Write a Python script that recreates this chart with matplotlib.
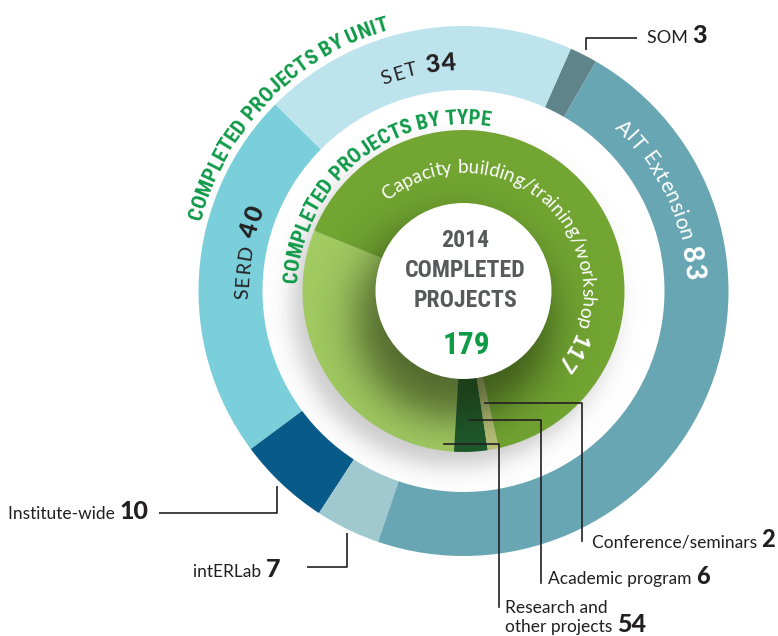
import numpy as np
import matplotlib
matplotlib.use('Agg')
import matplotlib.pyplot as plt
from matplotlib import font_manager
from matplotlib.font_manager import FontProperties
from matplotlib.patches import Circle

# ---------------- data ----------------
unit_labels = ['SOM', 'SET', 'SERD', 'Institute-wide', 'intERLab', 'AIT Extension']
unit_values = [3, 34, 40, 10, 7, 83]
unit_colors = ['#5f8489', '#bde3ec', '#7bcfdb', '#085a88', '#9fc8cf', '#67a6b2']

type_labels = ['Research and\nother projects', 'Academic program', 'Conference/seminars',
               'Capacity building/training/workshop']
type_values = [54, 6, 2, 117]
type_colors = ['#a2cb62', '#1d5a2c', '#bcc47a', '#72a532']

year = 2014
total_projects = 179
title_unit = 'COMPLETED PROJECTS BY UNIT'
title_type = 'COMPLETED PROJECTS BY TYPE'
center_lines = [str(year), 'COMPLETED', 'PROJECTS']

# ---------------- layout ----------------
W, H = 778, 636
def Y(py):
    return H - py

CX, CY = 463.5, Y(291)
R_OUT, R_OUT_IN = 265, 201
R_PIE, R_HOLE = 161, 88

names = {f.name for f in font_manager.fontManager.ttflist}
COND = next((n for n in ['Roboto Condensed', 'Open Sans Condensed', 'Liberation Sans Narrow']
             if n in names), 'DejaVu Sans')
LATO = 'Lato' if 'Lato' in names else 'DejaVu Sans'

def fp(family, size, weight='normal'):
    return FontProperties(family=family, size=size, weight=weight)

GREEN = '#0f9a48'
DARK = '#231f20'
GRAY = '#58595b'

fig = plt.figure(figsize=(W / 100, H / 100), dpi=100)
ax = fig.add_axes([0, 0, 1, 1])
renderer = fig.canvas.get_renderer()

# ---------------- pies ----------------
outer, _ = ax.pie(unit_values, colors=unit_colors, startangle=60, counterclock=True,
                  radius=R_OUT, center=(CX, CY),
                  wedgeprops=dict(width=R_OUT - R_OUT_IN, edgecolor='none', linewidth=0))
for w in outer:
    w.set_zorder(2)
inner, _ = ax.pie(type_values, colors=type_colors, startangle=158, counterclock=True,
                  radius=R_PIE, center=(CX, CY),
                  wedgeprops=dict(width=R_PIE, edgecolor='none', linewidth=0))
for w in inner:
    w.set_zorder(3)

ax.set_xlim(0, W)
ax.set_ylim(0, H)
ax.set_aspect('equal')
ax.axis('off')

# ---------------- shadows ----------------
gx, gy = np.meshgrid(np.arange(W) + 0.5, np.arange(H) + 0.5)

def soft_disc(cx, cy, r, s, amax):
    d = np.hypot(gx - cx, gy - cy)
    return amax * 0.5 * (1 - np.tanh((d - r) / s))

# drop shadow of the green pie on the white gap
a1 = soft_disc(CX - 10, CY - 14, R_PIE, 14, 0.32)
img1 = np.zeros((H, W, 4)); img1[..., :3] = 0.35; img1[..., 3] = a1
ax.imshow(img1, extent=(0, W, 0, H), origin='lower', zorder=1, interpolation='bilinear')

# shadow of the white centre on the green pie
a2 = soft_disc(CX - 10, CY - 30, R_HOLE + 8, 26, 0.62)
img2 = np.zeros((H, W, 4)); img2[..., 0] = 0.12; img2[..., 1] = 0.17; img2[..., 2] = 0.05
img2[..., 3] = a2
im2 = ax.imshow(img2, extent=(0, W, 0, H), origin='lower', zorder=4, interpolation='bilinear')
im2.set_clip_path(Circle((CX, CY), R_PIE, transform=ax.transData))

ax.add_patch(Circle((CX, CY), R_HOLE, facecolor='white', edgecolor='none', zorder=5))
ax.set_xlim(0, W)
ax.set_ylim(0, H)

# ---------------- text helpers ----------------
def text_width(s, prop):
    t = ax.text(0, 0, s, fontproperties=prop)
    w = t.get_window_extent(renderer).width
    t.remove()
    return w

def char_widths(s, prop):
    base = text_width('ll', prop)
    return [text_width('l' + c + 'l', prop) - base for c in s]

def curved_text(segments, r, theta_mid, color, tracking=0.0, zorder=10):
    items = []
    for s, prop in segments:
        for c, w in zip(s, char_widths(s, prop)):
            items.append((c, prop, w + tracking))
    total = sum(w for _, _, w in items)
    start = np.radians(theta_mid) + total / r / 2
    cum = 0.0
    for c, prop, w in items:
        a = start - (cum + w / 2) / r
        cum += w
        if c.strip():
            ax.text(CX + r * np.cos(a), CY + r * np.sin(a), c, fontproperties=prop,
                    color=color, rotation=np.degrees(a) - 90, rotation_mode='anchor',
                    ha='center', va='baseline', zorder=zorder)

def fit_size(family, weight, s, target_px, base=10):
    w = text_width(s, fp(family, base, weight))
    return base * target_px / w

def line_text(x, y, segments, color=DARK):
    for s, prop in segments:
        t = ax.text(x, y, s, fontproperties=prop, color=color, ha='left', va='baseline', zorder=10)
        x += t.get_window_extent(renderer).width

# ---------------- headings ----------------
size_u = fit_size(COND, 'bold', title_unit, np.radians(59) * 272)
curved_text([(title_unit, fp(COND, size_u, 'bold'))], 272, 135.5, GREEN)
size_t = fit_size(COND, 'bold', title_type, np.radians(96) * 167)
curved_text([(title_type, fp(COND, size_t, 'bold'))], 167, 129, GREEN)

# capacity label inside green ring
cap_txt = type_labels[3] + ' '
size_c = fit_size(LATO, 'normal', cap_txt + '117', np.radians(166) * 118)
curved_text([(cap_txt, fp(LATO, size_c)), (str(type_values[3]), fp(LATO, size_c * 1.15, 'black'))],
            118, 46, 'white')

# unit labels along the ring
curved_text([('SET ', fp(LATO, 14)), (str(unit_values[1]), fp(LATO, 18, 'black'))],
            221, 101.5, DARK, tracking=1.5)
curved_text([('SERD ', fp(LATO, 14)), (str(unit_values[2]), fp(LATO, 18, 'black'))],
            215, 170, DARK, tracking=1.5)
curved_text([('AIT Extension ', fp(LATO, 15)), (str(unit_values[5]), fp(LATO, 20, 'black'))],
            222, 25, 'white', tracking=0.5)

# ---------------- centre text ----------------
sz = fit_size(COND, 'bold', center_lines[1], 120)
for s, py in zip(center_lines, [247, 277, 307]):
    ax.text(CX + 2, Y(py), s, fontproperties=fp(COND, sz, 'bold'), color=GRAY,
            ha='center', va='baseline', zorder=10)
sz2 = fit_size(COND, 'bold', str(total_projects), 48)
ax.text(CX + 3, Y(354), str(total_projects), fontproperties=fp(COND, sz2, 'bold'), color=GREEN,
        ha='center', va='baseline', zorder=10)

# ---------------- leader lines & outside labels ----------------
LW = 1.2
LAB = 12.5
def poly(pts):
    xs = [p[0] for p in pts]; ys = [Y(p[1]) for p in pts]
    ax.plot(xs, ys, color=DARK, lw=LW, zorder=9, solid_capstyle='butt')

poly([(586, 50), (586, 38), (637, 38)])
line_text(647, Y(43), [('SOM ', fp(LATO, 13)), (str(unit_values[0]), fp(LATO, 18, 'black'))])

poly([(277, 486), (277, 513), (159, 513)])
line_text(8, Y(519), [('Institute-wide ', fp(LATO, LAB)), (str(unit_values[3]), fp(LATO, 18, 'black'))])

poly([(347, 533), (347, 567), (307, 567)])
line_text(193, Y(577), [('intERLab ', fp(LATO, LAB)), (str(unit_values[4]), fp(LATO, 18, 'black'))])

# inner pie leaders, anchored on their wedges
angles = np.cumsum([0] + type_values) / sum(type_values) * 360 + 158
def anchor(theta, r):
    t = np.radians(theta)
    return CX + r * np.cos(t), CY + r * np.sin(t)

ax_, ay_ = anchor((angles[2] + angles[3]) / 2, 114)
ax.plot([ax_, 582, 582], [ay_, ay_, Y(541)], color=DARK, lw=LW, zorder=9)
line_text(592, Y(547), [(type_labels[2] + ' ', fp(LATO, LAB)), (str(type_values[2]), fp(LATO, 17, 'black'))])

ax_, ay_ = anchor((angles[1] + angles[2]) / 2, 129)
ax.plot([ax_, 541, 541], [ay_, ay_, Y(583)], color=DARK, lw=LW, zorder=9)
line_text(548, Y(584), [(type_labels[1] + ' ', fp(LATO, LAB)), (str(type_values[1]), fp(LATO, 17, 'black'))])

ax_, ay_ = anchor(angles[1] - 4, 154)
ax.plot([ax_, 499, 499], [ay_, ay_, Y(607)], color=DARK, lw=LW, zorder=9)
r1, r2 = type_labels[0].split('\n')
line_text(505, Y(613), [(r1, fp(LATO, LAB))])
line_text(505, Y(632), [(r2 + ' ', fp(LATO, LAB)), (str(type_values[0]), fp(LATO, 18, 'black'))])

fig.savefig('out.png', dpi=100, facecolor='white')
